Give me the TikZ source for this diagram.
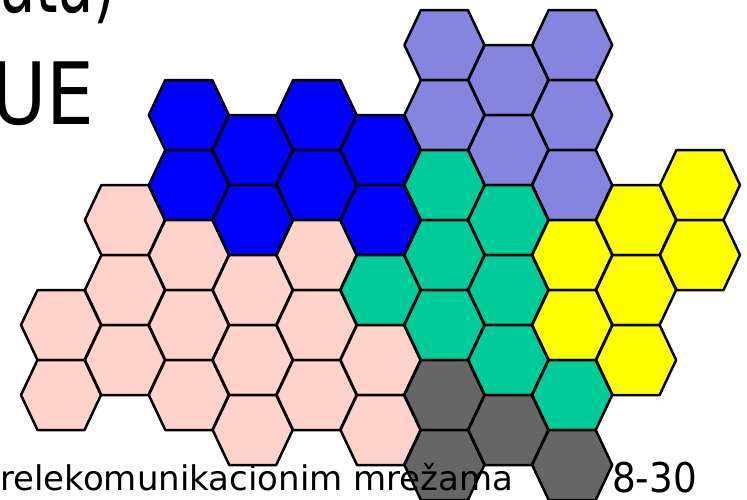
\documentclass[tikz,border=0pt]{standalone}
\usepackage{fontspec}
\setmainfont{DejaVu Sans}
\definecolor{cblue}{HTML}{0000FF}
\definecolor{clav}{HTML}{8585E0}
\definecolor{cteal}{HTML}{00CC99}
\definecolor{cyel}{HTML}{FFFF00}
\definecolor{cpink}{HTML}{FFD3CB}
\definecolor{cgray}{HTML}{666666}
\tikzset{
  hexcell/.style={draw=black, line width=2.5pt, line join=round},
  label text/.style={inner sep=0pt, text=black}
}
\newcommand\hexat[3]{%
  \pgfmathsetmacro\hxx{61+63.9*#1}%
  \filldraw[hexcell, fill=#3] (\hxx-40,#2) -- (\hxx-23.5,#2-35) -- (\hxx+23.5,#2-35) -- (\hxx+40,#2) -- (\hxx+23.5,#2+35) -- (\hxx-23.5,#2+35) -- cycle;}
\begin{document}
\begin{tikzpicture}[x=1pt,y=-1pt]
\useasboundingbox (0,0) rectangle (747,499);
\clip (0,0) rectangle (747,499);
% column 0
\hexat{0}{325}{cpink}\hexat{0}{395}{cpink}
% column 1
\hexat{1}{220}{cpink}\hexat{1}{290}{cpink}\hexat{1}{360}{cpink}
% column 2
\hexat{2}{115}{cblue}\hexat{2}{185}{cblue}\hexat{2}{255}{cpink}\hexat{2}{325}{cpink}\hexat{2}{395}{cpink}
% column 3
\hexat{3}{150}{cblue}\hexat{3}{220}{cblue}\hexat{3}{290}{cpink}\hexat{3}{360}{cpink}\hexat{3}{430}{cpink}
% column 4
\hexat{4}{115}{cblue}\hexat{4}{185}{cblue}\hexat{4}{255}{cpink}\hexat{4}{325}{cpink}\hexat{4}{395}{cpink}
% column 5
\hexat{5}{150}{cblue}\hexat{5}{220}{cblue}\hexat{5}{290}{cteal}\hexat{5}{360}{cpink}\hexat{5}{430}{cpink}
% column 6
\hexat{6}{45}{clav}\hexat{6}{115}{clav}\hexat{6}{185}{cteal}\hexat{6}{255}{cteal}\hexat{6}{325}{cteal}\hexat{6}{395}{cgray}\hexat{6}{465}{cgray}
% column 7
\hexat{7}{80}{clav}\hexat{7}{150}{clav}\hexat{7}{220}{cteal}\hexat{7}{290}{cteal}\hexat{7}{360}{cteal}\hexat{7}{430}{cgray}
% column 8
\hexat{8}{45}{clav}\hexat{8}{115}{clav}\hexat{8}{185}{clav}\hexat{8}{255}{cyel}\hexat{8}{325}{cyel}\hexat{8}{395}{cteal}\hexat{8}{465}{cgray}
% column 9
\hexat{9}{220}{cyel}\hexat{9}{290}{cyel}\hexat{9}{360}{cyel}
% column 10
\hexat{10}{185}{cyel}\hexat{10}{255}{cyel}
% texts
\node[label text, anchor=base east] (toptext) at (116,12) {\scalebox{0.67}[1]{\fontsize{86}{86}\selectfont ata)}};
\node[label text, anchor=base east] (uetext) at (95,124) {\scalebox{0.88}[1]{\fontsize{86}{86}\selectfont UE}};
\node[label text, anchor=base west] (footer) at (0,490) {\resizebox{513pt}{!}{\fontsize{33}{33}\selectfont relekomunikacionim mrežama}};
\node[label text, anchor=base west] (pagenum) at (612,492) {\scalebox{0.91}[1]{\fontsize{41}{41}\selectfont 8-30}};
\end{tikzpicture}
\end{document}
